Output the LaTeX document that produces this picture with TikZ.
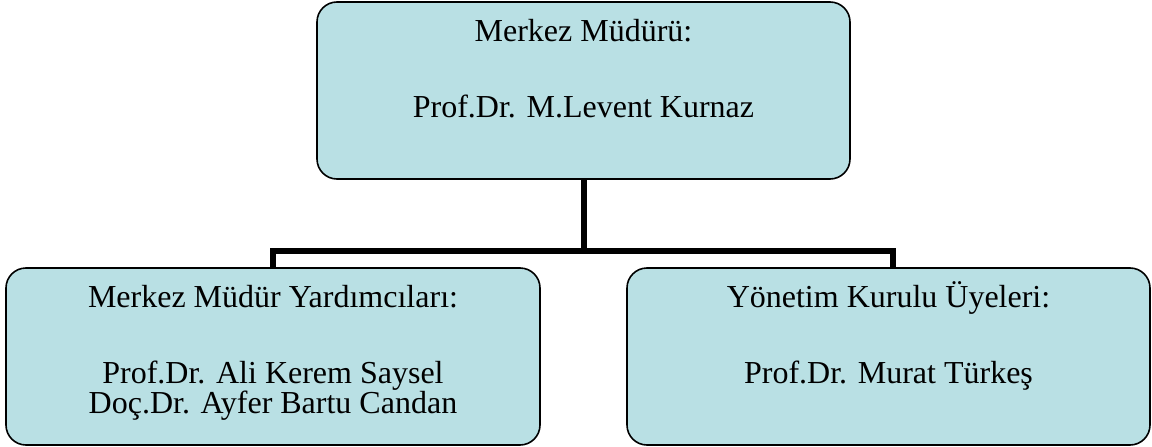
\documentclass[tikz,border=0pt]{standalone}
\usepackage{fontspec}
\setmainfont{Liberation Serif}
\begin{document}
\begin{tikzpicture}[x=1pt,y=1pt,
  box/.style={draw=black, line width=1.6pt, fill=boxfill, rounded corners=20pt, inner sep=0pt},
  lbl/.style={anchor=base, inner sep=0pt, font=\fontsize{32}{36}\selectfont},
  conn/.style={draw=black, line width=6pt}]
\definecolor{boxfill}{RGB}{185,224,228}
\useasboundingbox (0,0) rectangle (1152,-447);
\node[box, minimum width=533pt, minimum height=177pt] (top) at (583.5,-90.5) {};
\node[box, minimum width=534pt, minimum height=177pt] (left) at (273,-356.5) {};
\node[box, minimum width=523pt, minimum height=177pt] (right) at (888.5,-356.5) {};
\node[lbl] (t1) at (583.5,-41) {Merkez Müdürü:};
\node[lbl] (t2) at (583.5,-117) {Prof.Dr. M.Levent Kurnaz};
\node[lbl] (l1) at (273,-307) {Merkez Müdür Yardımcıları:};
\node[lbl] (l2) at (273,-383) {Prof.Dr. Ali Kerem Saysel};
\node[lbl] (l3) at (273,-413) {Doç.Dr. Ayfer Bartu Candan};
\node[lbl] (r1) at (888.5,-307) {Yönetim Kurulu Üyeleri:};
\node[lbl] (r2) at (888.5,-383) {Prof.Dr. Murat Türkeş};
\coordinate (j) at ([yshift=-71pt]top.south);
\draw[conn] (top.south) -- (j);
\draw[conn] (left.north) |- (j) -| ([xshift=4.5pt]right.north);
\end{tikzpicture}
\end{document}
